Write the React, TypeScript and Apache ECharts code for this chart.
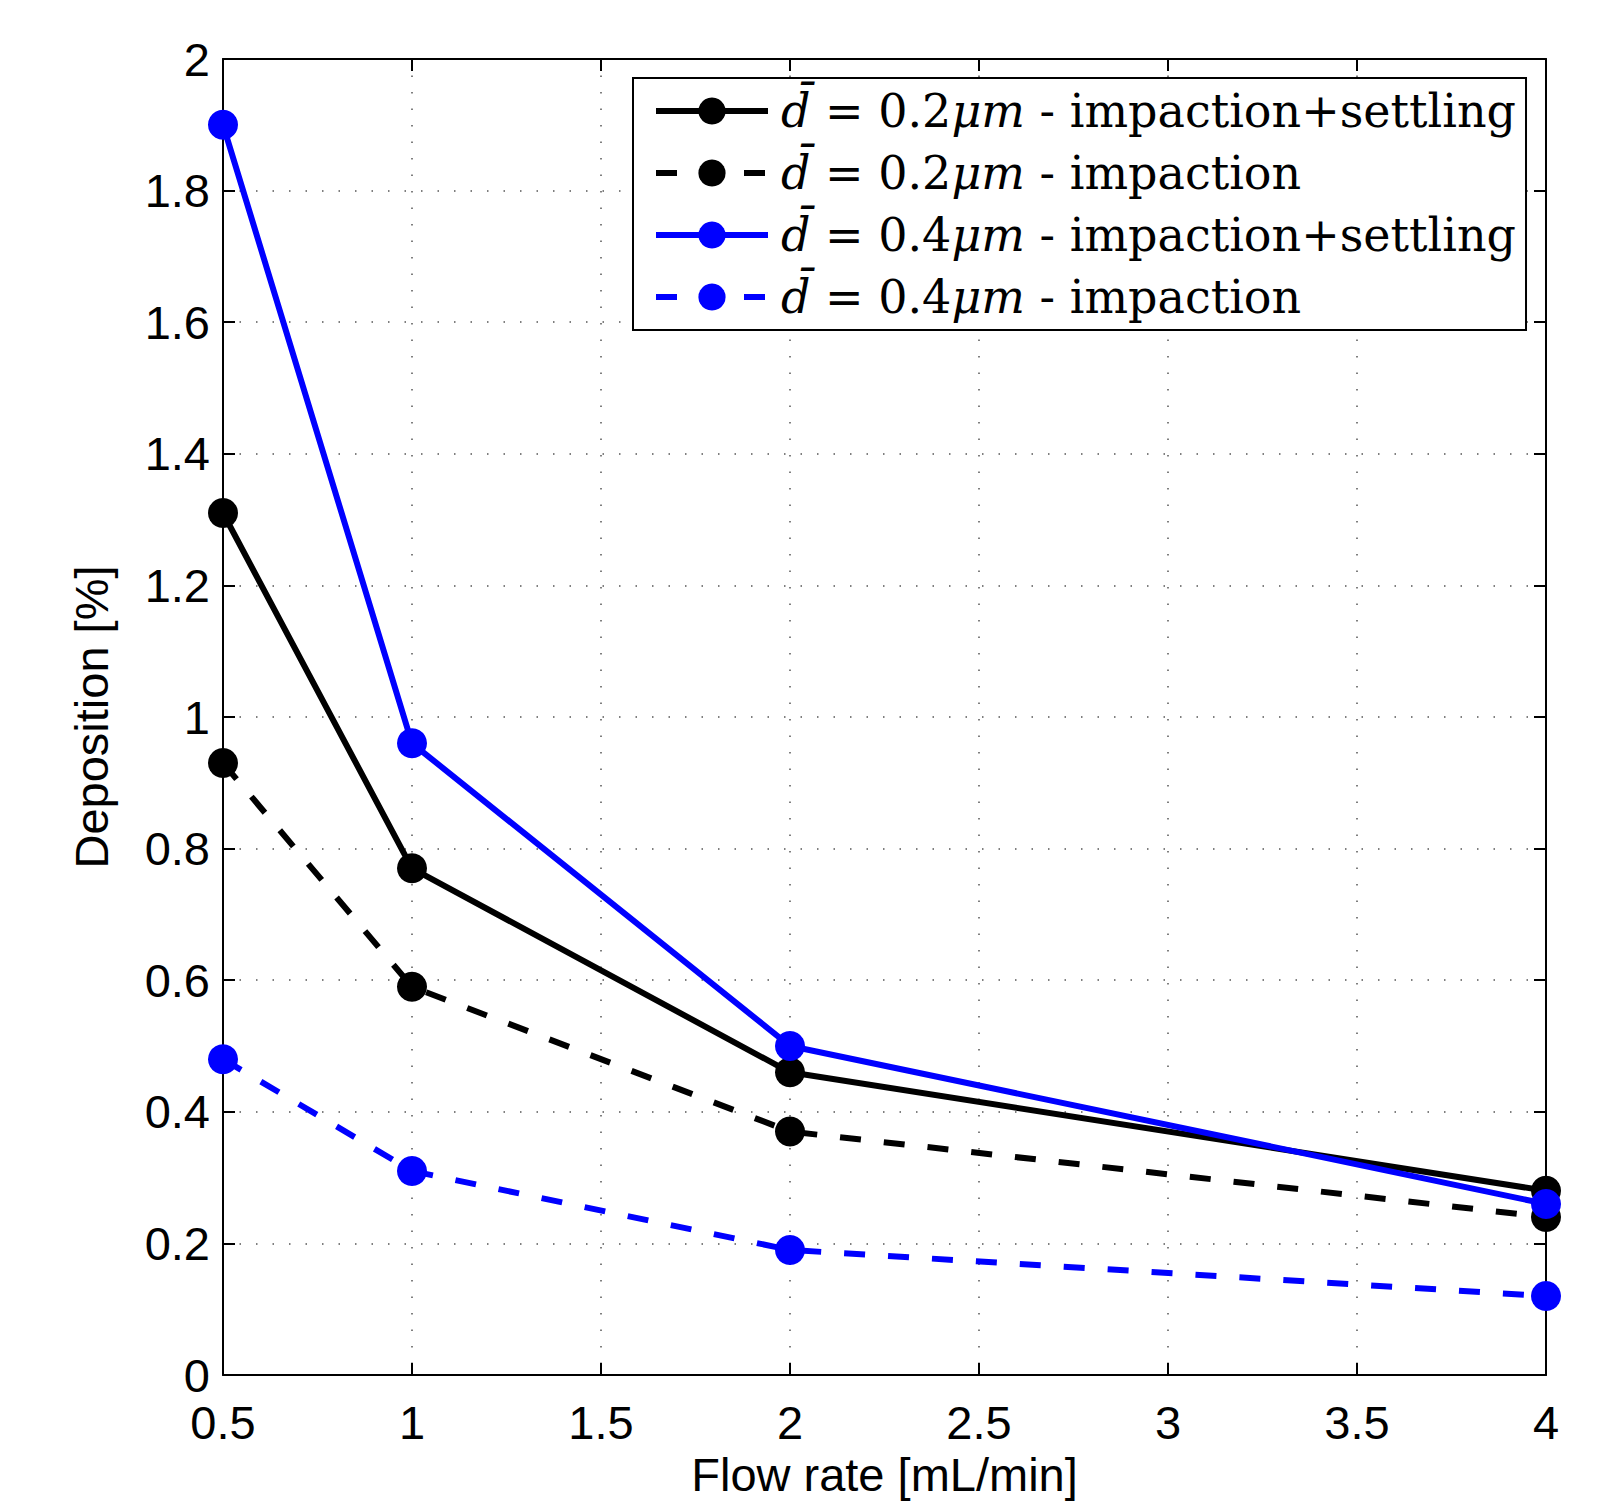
import React, { useEffect, useRef } from "react";
import * as echarts from "echarts";

const flowRates = [0.5, 1, 2, 4];
const d02ImpSettling = [1.31, 0.77, 0.46, 0.28];
const d02Imp = [0.93, 0.59, 0.37, 0.24];
const d04ImpSettling = [1.9, 0.96, 0.5, 0.26];
const d04Imp = [0.48, 0.31, 0.19, 0.12];

const seriesNames = [
  "d02 impaction+settling",
  "d02 impaction",
  "d04 impaction+settling",
  "d04 impaction",
];
const legendSizes = ["0.2", "0.2", "0.4", "0.4"];
const legendKinds = ["impaction+settling", "impaction", "impaction+settling", "impaction"];

const BLACK = "#000000";
const BLUE = "#0000ff";

export default function App() {
  const ref = useRef<HTMLDivElement>(null);

  useEffect(() => {
    if (!ref.current) return;
    const chart = echarts.init(ref.current, undefined, { renderer: "svg" });
    const sansFont = "Liberation Sans";
    const serifFont = "DejaVu Serif";

    const mk = (name: string, data: number[], color: string, dashed: boolean) => ({
      name,
      type: "line",
      xAxisIndex: 0,
      yAxisIndex: 0,
      data: flowRates.map((x, i) => [x, data[i]]),
      symbol: "circle",
      symbolSize: 30,
      showSymbol: true,
      clip: false,
      itemStyle: { color },
      lineStyle: { color, width: 6, type: dashed ? [21, 23] : "solid" },
      emphasis: { disabled: true },
    });

    const splitLine = {
      show: true,
      lineStyle: { color: "#555555", width: 1.5, type: [1.5, 15] },
    };

    chart.setOption({
      animation: false,
      backgroundColor: "#ffffff",
      grid: { left: 223, top: 59, right: 58, bottom: 122, containLabel: false },
      xAxis: [
        {
          type: "value",
          position: "bottom",
          min: 0.5,
          max: 4,
          interval: 0.5,
          name: "Flow rate [mL/min]",
          nameLocation: "middle",
          nameGap: 76,
          nameTextStyle: { fontFamily: sansFont, fontSize: 47, color: BLACK },
          axisLine: { show: true, onZero: false, lineStyle: { color: BLACK, width: 2 } },
          axisTick: { show: true, inside: true, length: 12, lineStyle: { color: BLACK, width: 2 } },
          axisLabel: {
            fontFamily: sansFont,
            fontSize: 47,
            color: BLACK,
            margin: 24,
            formatter: (v: number) => String(v),
          },
          splitLine,
        },
        {
          type: "value",
          position: "top",
          min: 0.5,
          max: 4,
          interval: 0.5,
          axisLine: { show: true, onZero: false, lineStyle: { color: BLACK, width: 2 } },
          axisTick: { show: true, inside: true, length: 12, lineStyle: { color: BLACK, width: 2 } },
          axisLabel: { show: false },
          splitLine: { show: false },
        },
      ],
      yAxis: [
        {
          type: "value",
          position: "left",
          min: 0,
          max: 2,
          interval: 0.2,
          name: "Deposition [%]",
          nameLocation: "middle",
          nameGap: 108,
          nameTextStyle: { fontFamily: sansFont, fontSize: 47, color: BLACK },
          axisLine: { show: true, onZero: false, lineStyle: { color: BLACK, width: 2 } },
          axisTick: { show: true, inside: true, length: 12, lineStyle: { color: BLACK, width: 2 } },
          axisLabel: {
            fontFamily: sansFont,
            fontSize: 47,
            color: BLACK,
            margin: 13,
            formatter: (v: number) => String(Math.round(v * 10) / 10),
          },
          splitLine,
        },
        {
          type: "value",
          position: "right",
          min: 0,
          max: 2,
          interval: 0.2,
          axisLine: { show: true, onZero: false, lineStyle: { color: BLACK, width: 2 } },
          axisTick: { show: true, inside: true, length: 12, lineStyle: { color: BLACK, width: 2 } },
          axisLabel: { show: false },
          splitLine: { show: false },
        },
      ],
      legend: {
        show: true,
        orient: "vertical",
        left: 633,
        top: 78,
        padding: [8, 10, 8, 20],
        itemGap: 12,
        itemWidth: 112,
        itemHeight: 34,
        backgroundColor: "#ffffff",
        borderColor: BLACK,
        borderWidth: 2,
        borderRadius: 0,
        selectedMode: false,
        lineStyle: { width: 6 },
        data: seriesNames,
        formatter: (name: string) => {
          const i = seriesNames.indexOf(name);
          return `{g|}{i|d\u0304}{r| = ${legendSizes[i]}}{i|\u03bcm}{r| - ${legendKinds[i]}}`;
        },
        textStyle: {
          fontFamily: serifFont,
          fontSize: 46,
          color: BLACK,
          lineHeight: 50,
          rich: {
            g: { width: 8, lineHeight: 50 },
            i: { fontFamily: serifFont, fontSize: 46, fontStyle: "italic", color: BLACK, lineHeight: 50 },
            r: { fontFamily: serifFont, fontSize: 46, color: BLACK, lineHeight: 50 },
          },
        },
      },
      series: [
        mk(seriesNames[0], d02ImpSettling, BLACK, false),
        mk(seriesNames[1], d02Imp, BLACK, true),
        mk(seriesNames[2], d04ImpSettling, BLUE, false),
        mk(seriesNames[3], d04Imp, BLUE, true),
      ],
    });

    return () => chart.dispose();
  }, []);

  return (
    <div
      ref={ref}
      style={{ position: "fixed", left: 0, top: 0, width: 1604, height: 1503, background: "#fff" }}
    />
  );
}
